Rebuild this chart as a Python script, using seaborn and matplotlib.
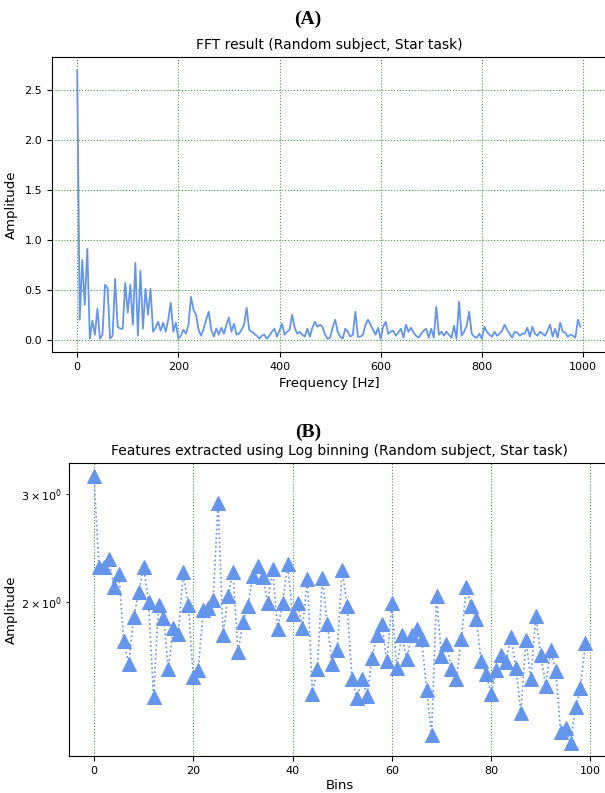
import numpy as np
import pandas as pd
import matplotlib
matplotlib.use("Agg")
import matplotlib.pyplot as plt
import seaborn as sns

# (A) FFT amplitude, 5 Hz steps from 0 to 995 Hz
freq_hz = np.arange(0, 1000, 5)
fft_amp = [
    2.70, 0.20, 0.80, 0.35, 0.91, 0.01, 0.19, 0.05, 0.31, 0.01, 0.05, 0.55, 0.52, 0.01, 0.04, 0.61, 0.13, 0.11, 0.11, 0.57,
    0.27, 0.55, 0.15, 0.77, 0.04, 0.69, 0.11, 0.51, 0.25, 0.51, 0.08, 0.12, 0.18, 0.09, 0.17, 0.08, 0.20, 0.37, 0.08, 0.17,
    0.01, 0.04, 0.10, 0.06, 0.15, 0.43, 0.30, 0.25, 0.10, 0.04, 0.11, 0.20, 0.28, 0.10, 0.03, 0.11, 0.05, 0.12, 0.06, 0.15,
    0.22, 0.08, 0.16, 0.05, 0.06, 0.10, 0.15, 0.32, 0.10, 0.08, 0.06, 0.04, 0.01, 0.04, 0.05, 0.01, 0.04, 0.08, 0.11, 0.03,
    0.09, 0.16, 0.05, 0.08, 0.10, 0.25, 0.12, 0.06, 0.08, 0.05, 0.03, 0.11, 0.03, 0.12, 0.18, 0.13, 0.15, 0.13, 0.05, 0.01,
    0.02, 0.12, 0.20, 0.08, 0.03, 0.01, 0.11, 0.08, 0.03, 0.05, 0.28, 0.03, 0.03, 0.05, 0.15, 0.20, 0.15, 0.10, 0.05, 0.12,
    0.01, 0.13, 0.18, 0.06, 0.08, 0.09, 0.04, 0.07, 0.11, 0.02, 0.15, 0.08, 0.12, 0.07, 0.04, 0.02, 0.06, 0.09, 0.11, 0.02,
    0.11, 0.02, 0.33, 0.05, 0.08, 0.04, 0.08, 0.05, 0.02, 0.14, 0.01, 0.38, 0.04, 0.08, 0.14, 0.28, 0.06, 0.03, 0.02, 0.06,
    0.01, 0.13, 0.08, 0.05, 0.03, 0.08, 0.04, 0.06, 0.09, 0.15, 0.10, 0.06, 0.02, 0.08, 0.07, 0.04, 0.06, 0.06, 0.12, 0.03,
    0.13, 0.06, 0.04, 0.08, 0.06, 0.04, 0.09, 0.15, 0.03, 0.11, 0.02, 0.17, 0.08, 0.07, 0.03, 0.05, 0.04, 0.02, 0.20, 0.13,
]

# (B) log binned features, 100 bins
bins = np.arange(100)
log_feat = [
    3.206, 2.284, 2.284, 2.352, 2.121, 2.226, 1.732, 1.586, 1.892, 2.075,
    2.284, 2.000, 1.404, 1.978, 1.885, 1.557, 1.817, 1.777, 2.242, 1.978,
    1.511, 1.551, 1.942, 1.956, 2.015, 2.902, 1.771, 2.045, 2.242, 1.657,
    1.858, 1.971, 2.209, 2.292, 2.201, 1.993, 2.267, 1.811, 1.993, 2.309,
    1.913, 1.993, 1.817, 2.185, 1.420, 1.557, 2.193, 1.844, 1.586, 1.670,
    2.259, 1.971, 1.500, 1.394, 1.500, 1.409, 1.621, 1.771, 1.844, 1.603,
    1.993, 1.562, 1.771, 1.615, 1.771, 1.811, 1.745, 1.441, 1.216, 2.045,
    1.633, 1.713, 1.557, 1.500, 1.745, 2.121, 1.971, 1.879, 1.603, 1.528,
    1.420, 1.551, 1.639, 1.597, 1.758, 1.562, 1.319, 1.739, 1.500, 1.899,
    1.639, 1.462, 1.670, 1.545, 1.230, 1.248, 1.181, 1.348, 1.451, 1.719,
]

df_a = pd.DataFrame({"freq": freq_hz, "amp": fft_amp})
df_b = pd.DataFrame({"bin": bins, "amp": log_feat})

col = "cornflowerblue"
fig = plt.figure(figsize=(6.05, 7.93), dpi=100)

ax1 = fig.add_axes([0.086, 0.556, 0.915, 0.372])
sns.lineplot(data=df_a, x="freq", y="amp", ax=ax1, color=col, linewidth=1.3)
ax1.grid(True, color="green", linestyle=":", linewidth=0.8, alpha=0.75)
ax1.set_title("FFT result (Random subject, Star task)", fontsize=10)
ax1.set_xlabel("Frequency [Hz]", fontsize=9.5)
ax1.set_ylabel("Amplitude", fontsize=9.5)
ax1.yaxis.set_label_coords(-0.061, 0.5)
ax1.tick_params(labelsize=8)
ax1.set_xticks([0, 200, 400, 600, 800, 1000])

ax2 = fig.add_axes([0.1147, 0.0466, 0.8936, 0.3695])
sns.lineplot(data=df_b, x="bin", y="amp", ax=ax2, color=col, linewidth=1.2,
             linestyle=":", marker="^", markersize=10,
             markeredgecolor=col, markerfacecolor=col)
ax2.set_yscale("log")
ax2.grid(True, which="major", color="green", linestyle=":", linewidth=0.8, alpha=0.75)
ax2.set_title("Features extracted using Log binning (Random subject, Star task)", fontsize=10)
ax2.set_xlabel("Bins", fontsize=9.5, labelpad=2)
ax2.set_ylabel("Amplitude", fontsize=9.5)
ax2.yaxis.set_label_coords(-0.095, 0.5)
ax2.tick_params(which="both", labelsize=8)
ax2.set_xticks([0, 20, 40, 60, 80, 100])

fig.text(0.509, 0.975, "(A)", ha="center", va="center", fontsize=14,
         fontweight="bold", family="Liberation Serif")
fig.text(0.509, 0.455, "(B)", ha="center", va="center", fontsize=14,
         fontweight="bold", family="Liberation Serif")

fig.savefig("out.png", dpi=100)
